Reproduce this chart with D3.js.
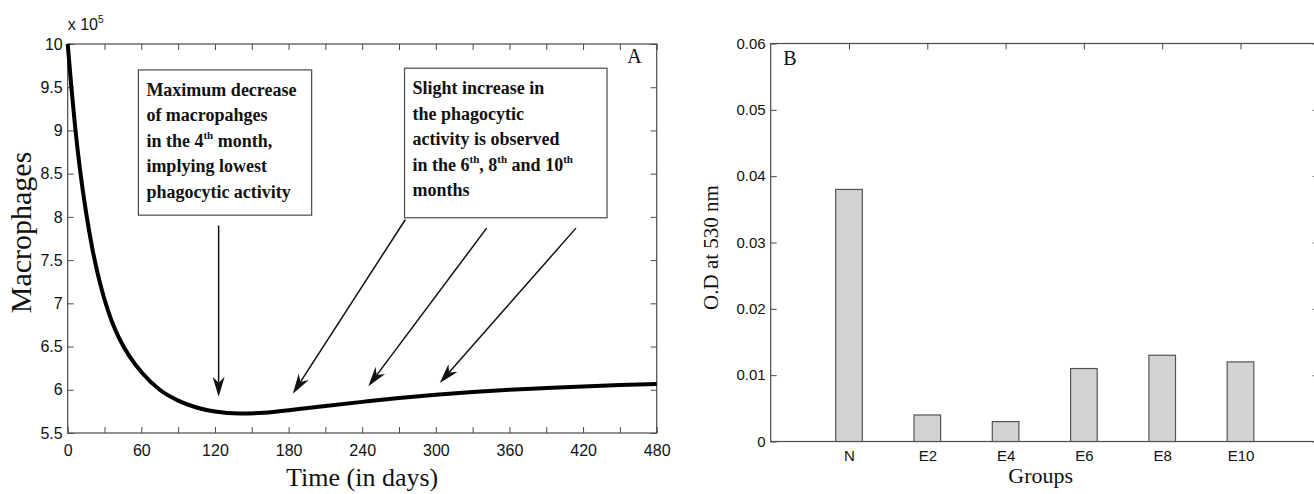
<!DOCTYPE html>
<html>
<head>
<meta charset="utf-8">
<script src="https://cdn.jsdelivr.net/npm/d3@7"></script>
<style>
  body { margin: 0; background: #fff; }
  svg { display: block; }
</style>
</head>
<body>
<div id="chart"></div>
<script>
// ---- panel A: simulated macrophages over time ----
const days = [0, 3, 6, 10, 15, 20, 25, 30, 36, 42, 50, 60, 75, 90, 105, 120, 140, 160, 185, 210, 240, 270, 300, 330, 360, 390, 420, 450, 480];
const macrophages = [10, 9.5, 9.05, 8.55, 8.05, 7.64, 7.31, 7.045, 6.79, 6.595, 6.395, 6.205, 6.0, 5.875, 5.795, 5.748, 5.725, 5.735, 5.772, 5.813, 5.86, 5.905, 5.943, 5.975, 6.0, 6.02, 6.038, 6.054, 6.068];
const dayTicks = [0, 30, 60, 90, 120, 150, 180, 210, 240, 270, 300, 330, 360, 390, 420, 450, 480];
const dayLabels = [0, 60, 120, 180, 240, 300, 360, 420, 480];
const macroTicks = [5.5, 6, 6.5, 7, 7.5, 8, 8.5, 9, 9.5, 10];

// annotation boxes (data units) and their text lines
const boxes = [
  { t0: 57.6, t1: 198.8, v0: 9.70, v1: 8.02,
    lines: [["Maximum decrease"], ["of macropahges"], ["in the 4", "th", " month,"], ["implying lowest"], ["phagocytic activity"]] },
  { t0: 274.5, t1: 439.5, v0: 9.72, v1: 7.99,
    lines: [["Slight increase in"], ["the phagocytic"], ["activity is observed"], ["in the 6", "th", ", 8", "th", " and 10", "th"], ["months"]] }
];
// arrows: from (t,v) to tip (t,v)
const arrows = [
  { t0: 123, v0: 7.90, t1: 123, v1: 5.92 },
  { t0: 275.2, v0: 7.97, t1: 183.5, v1: 5.955 },
  { t0: 341.4, v0: 7.87, t1: 245, v1: 6.04 },
  { t0: 414.2, v0: 7.87, t1: 303.2, v1: 6.077 }
];

// ---- panel B: O.D per group ----
const groups = ["N", "E2", "E4", "E6", "E8", "E10"];
const odValues = [0.038, 0.004, 0.003, 0.011, 0.013, 0.012];
const odTicks = [0, 0.01, 0.02, 0.03, 0.04, 0.05, 0.06];

const W = 1314, H = 494;
const narrow = "'Liberation Sans Narrow', 'Arial Narrow', 'Liberation Sans', sans-serif";
const sans = "'Liberation Sans', Arial, sans-serif";
const serif = "'Liberation Serif', 'Times New Roman', serif";
const frameColor = "#4a4a4a";

const svg = d3.select("#chart").append("svg")
  .attr("width", W).attr("height", H)
  .attr("viewBox", `0 0 ${W} ${H}`);

// ================= panel A =================
const xA = d3.scaleLinear().domain([0, 480]).range([67.7, 656.7]);
const yA = d3.scaleLinear().domain([5.5, 10]).range([433, 44]);

const gA = svg.append("g");

function styleAxis(g, font, size) {
  g.select(".domain").remove();
  g.selectAll(".tick line").attr("stroke", frameColor).attr("stroke-width", 1);
  g.attr("font-family", font).attr("font-size", size);
  g.selectAll(".tick text").attr("fill", "#111");
}

gA.append("g")
  .attr("transform", `translate(0,${yA(5.5)})`)
  .call(d3.axisBottom(xA).tickValues(dayTicks).tickSize(-6).tickPadding(12)
    .tickFormat(d => dayLabels.includes(d) ? d : ""))
  .call(g => styleAxis(g, narrow, 16));

gA.append("g")
  .attr("transform", `translate(0,${yA(10)})`)
  .call(d3.axisTop(xA).tickValues(dayTicks).tickSize(-6).tickFormat(""))
  .call(g => styleAxis(g, narrow, 16));

gA.append("g")
  .attr("transform", `translate(${xA(0)},0)`)
  .call(d3.axisLeft(yA).tickValues(macroTicks).tickSize(-6).tickPadding(5)
    .tickFormat(d => d3.format("")(d)))
  .call(g => styleAxis(g, narrow, 16));

gA.append("g")
  .attr("transform", `translate(${xA(480)},0)`)
  .call(d3.axisRight(yA).tickValues(macroTicks).tickSize(-6).tickFormat(""))
  .call(g => styleAxis(g, narrow, 16));

gA.append("rect")
  .attr("x", xA(0)).attr("y", yA(10))
  .attr("width", xA(480) - xA(0)).attr("height", yA(5.5) - yA(10))
  .attr("fill", "none").attr("stroke", frameColor).attr("stroke-width", 1.2);

// exponent label
const expo = gA.append("text")
  .attr("x", xA(0)).attr("y", yA(10) - 14)
  .attr("font-family", narrow).attr("font-size", 16).attr("fill", "#111");
expo.append("tspan").text("x 10");
expo.append("tspan").attr("font-size", 10).attr("dy", -7).text("5");

// curve
const line = d3.line()
  .x((d, i) => xA(days[i]))
  .y(d => yA(d))
  .curve(d3.curveMonotoneX);

gA.append("path")
  .datum(macrophages)
  .attr("d", line)
  .attr("fill", "none")
  .attr("stroke", "#000")
  .attr("stroke-width", 4)
  .attr("stroke-linejoin", "round");

// annotation boxes
boxes.forEach(b => {
  const bx = xA(b.t0), by = yA(b.v0);
  gA.append("rect")
    .attr("x", bx).attr("y", by)
    .attr("width", xA(b.t1) - bx).attr("height", yA(b.v1) - by)
    .attr("fill", "#fff").attr("stroke", frameColor).attr("stroke-width", 1.2);
  b.lines.forEach((segs, i) => {
    const t = gA.append("text")
      .attr("x", bx + 8).attr("y", by + 26 + i * 25.5)
      .attr("font-family", serif).attr("font-weight", "bold")
      .attr("font-size", 18).attr("fill", "#111");
    segs.forEach((s, j) => {
      const sup = j % 2 === 1;
      t.append("tspan")
        .attr("font-size", sup ? 11 : 18)
        .attr("dy", sup ? -8 : (j > 0 ? 8 : 0))
        .text(s);
    });
  });
});

// arrows
arrows.forEach(a => {
  const x0 = xA(a.t0), y0 = yA(a.v0), x1 = xA(a.t1), y1 = yA(a.v1);
  const len = Math.hypot(x1 - x0, y1 - y0);
  const ux = (x1 - x0) / len, uy = (y1 - y0) / len;
  const nx = -uy, ny = ux;
  const L = 20, N = 14, w = 6;
  gA.append("line")
    .attr("x1", x0).attr("y1", y0)
    .attr("x2", x1 - N * ux).attr("y2", y1 - N * uy)
    .attr("stroke", "#111").attr("stroke-width", 1.5);
  const pts = [
    [x1, y1],
    [x1 - L * ux + w * nx, y1 - L * uy + w * ny],
    [x1 - N * ux, y1 - N * uy],
    [x1 - L * ux - w * nx, y1 - L * uy - w * ny]
  ];
  gA.append("path")
    .attr("d", "M" + pts.map(p => p.join(",")).join("L") + "Z")
    .attr("fill", "#111");
});

gA.append("text")
  .attr("x", xA(456)).attr("y", yA(9.78))
  .attr("font-family", serif).attr("font-size", 20).attr("fill", "#111")
  .text("A");

gA.append("text")
  .attr("x", (xA(0) + xA(480)) / 2).attr("y", 486)
  .attr("text-anchor", "middle")
  .attr("font-family", serif).attr("font-size", 26).attr("fill", "#111")
  .text("Time (in days)");

gA.append("text")
  .attr("transform", `translate(31,${(yA(5.5) + yA(10)) / 2 - 6}) rotate(-90)`)
  .attr("text-anchor", "middle")
  .attr("font-family", serif).attr("font-size", 30).attr("fill", "#111")
  .text("Macrophages");

// ================= panel B =================
const xB = d3.scaleLinear().domain([0, 7]).range([770.7, 1318.8]);
const yB = d3.scaleLinear().domain([0, 0.06]).range([441.5, 43.5]);
const gB = svg.append("g");
const groupPos = groups.map((g, i) => i + 1);

gB.append("g")
  .attr("transform", `translate(0,${yB(0)})`)
  .call(d3.axisBottom(xB).tickValues(groupPos).tickSize(-6).tickPadding(9)
    .tickFormat(d => groups[d - 1]))
  .call(g => styleAxis(g, sans, 15));

gB.append("g")
  .attr("transform", `translate(0,${yB(0.06)})`)
  .call(d3.axisTop(xB).tickValues(groupPos).tickSize(-6).tickFormat(""))
  .call(g => styleAxis(g, sans, 15));

gB.append("g")
  .attr("transform", `translate(${xB(0)},0)`)
  .call(d3.axisLeft(yB).tickValues(odTicks).tickSize(-6).tickPadding(5)
    .tickFormat(d => d === 0 ? "0" : d3.format(".2f")(d)))
  .call(g => styleAxis(g, sans, 15));

gB.append("g")
  .attr("transform", `translate(${xB(7)},0)`)
  .call(d3.axisRight(yB).tickValues(odTicks).tickSize(-6).tickFormat(""))
  .call(g => styleAxis(g, sans, 15));

gB.append("rect")
  .attr("x", xB(0)).attr("y", yB(0.06))
  .attr("width", xB(7) - xB(0)).attr("height", yB(0) - yB(0.06))
  .attr("fill", "none").attr("stroke", frameColor).attr("stroke-width", 1.2);

const barW = 0.34;
gB.selectAll(".bar")
  .data(odValues)
  .enter()
  .append("rect")
  .attr("class", "bar")
  .attr("x", (d, i) => xB(groupPos[i] - barW / 2))
  .attr("y", d => yB(d))
  .attr("width", xB(barW) - xB(0))
  .attr("height", d => yB(0) - yB(d))
  .attr("fill", "#d3d3d3")
  .attr("stroke", "#555")
  .attr("stroke-width", 1.2);

gB.append("text")
  .attr("x", xB(0.16)).attr("y", yB(0.0568))
  .attr("font-family", serif).attr("font-size", 20).attr("fill", "#111")
  .text("B");

gB.append("text")
  .attr("x", (xB(0) + xB(7)) / 2 - 4).attr("y", 483)
  .attr("text-anchor", "middle")
  .attr("font-family", serif).attr("font-size", 22).attr("fill", "#111")
  .text("Groups");

gB.append("text")
  .attr("transform", `translate(718,${(yB(0) + yB(0.06)) / 2 + 5}) rotate(-90)`)
  .attr("text-anchor", "middle")
  .attr("font-family", serif).attr("font-size", 21).attr("fill", "#111")
  .text("O.D at 530 nm");
</script>
</body>
</html>
